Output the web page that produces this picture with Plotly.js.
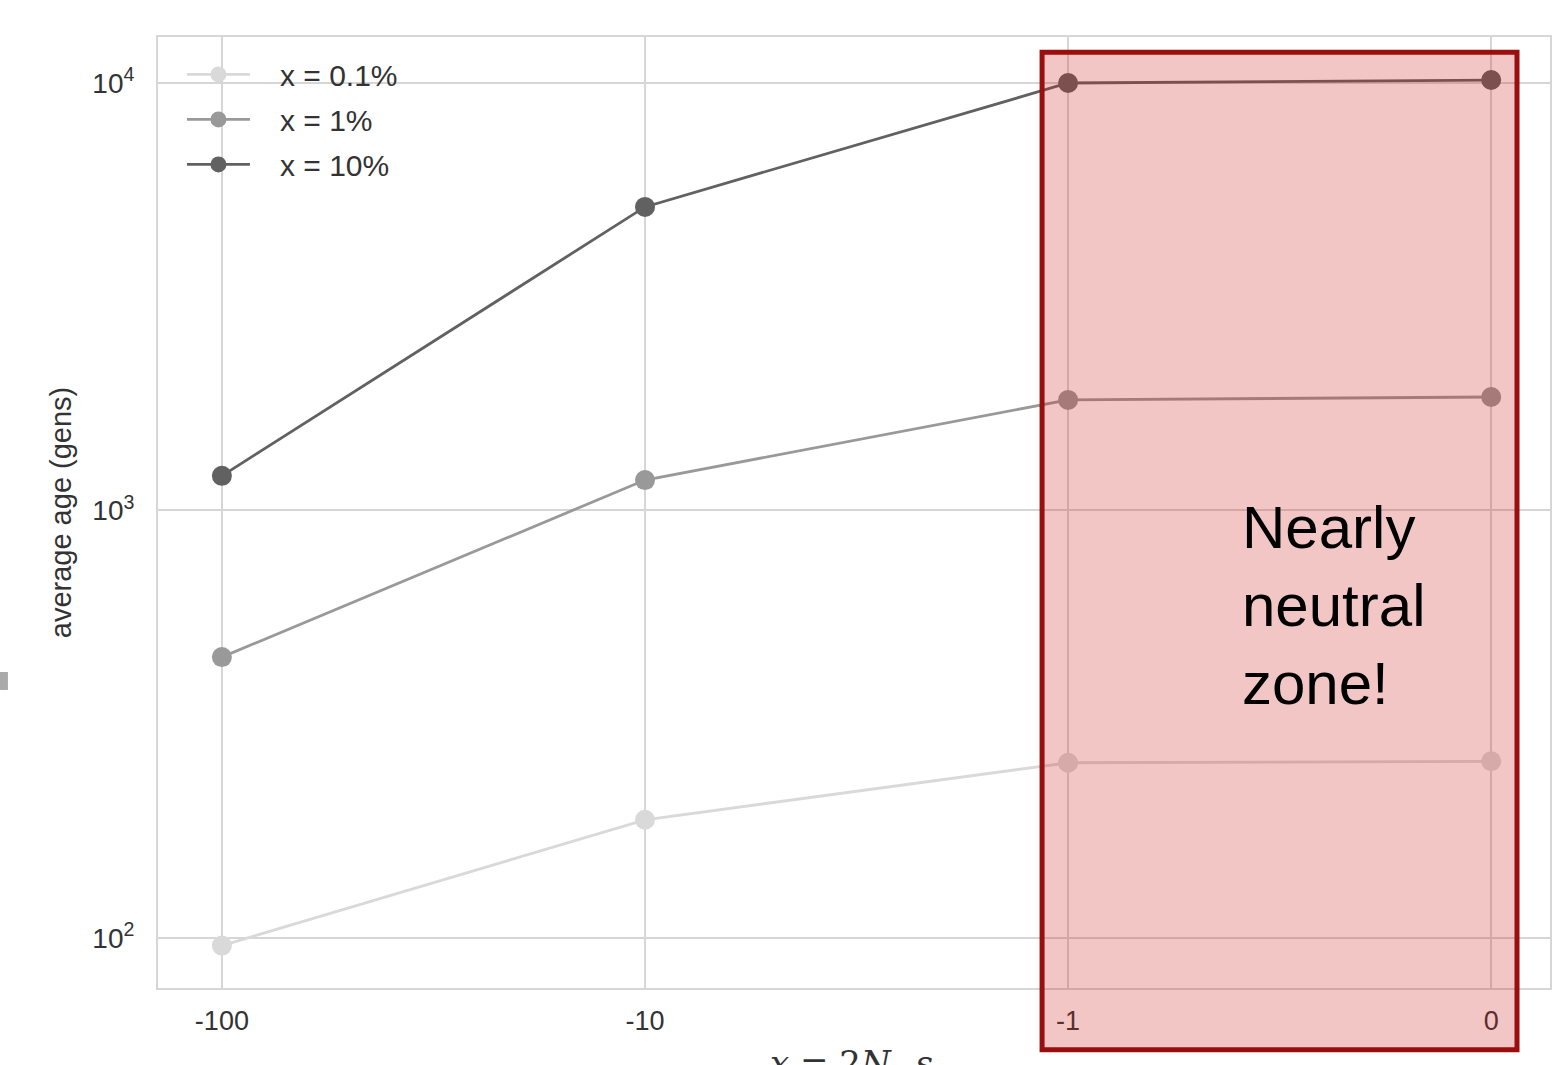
<!DOCTYPE html>
<html>
<head>
<meta charset="utf-8">
<script src="https://cdn.plot.ly/plotly-3.0.1.min.js"></script>
<style>html,body{margin:0;padding:0;background:#fff;}#chart{width:1559px;height:1065px;}</style>
</head>
<body>
<div id="chart"></div>
<script>
var categories = ["-100", "-10", "-1", "0"];
var seriesNames = ["x = 0.1%", "x = 1%", "x = 10%"];
var age01 = [96, 189, 257, 259];
var age1 = [454, 1178, 1814, 1843];
var age10 = [1205, 5130, 10000, 10160];
var yTickVals = [100, 1000, 10000];
var yTickText = ["10<sup>2</sup>", "10<sup>3</sup>", "10<sup>4</sup>"];
var colors = ["#d9d9d9", "#999999", "#616161"];
var idx = categories.map(function (c, i) { return i; });

var allSeries = [age01, age1, age10];
var pad = "\u00a0\u00a0\u00a0";
var traces = allSeries.map(function (vals, k) {
  return {
    x: idx, y: vals, name: pad + seriesNames[k], type: "scatter", mode: "lines+markers",
    legendgroup: "g" + k,
    line: {color: colors[k], width: 2.8},
    marker: {color: colors[k], size: 20}
  };
});

var grid = "#d6d6d6";
var layout = {
  width: 1559, height: 1065,
  margin: {l: 158, r: 9, t: 37, b: 77},
  paper_bgcolor: "#ffffff", plot_bgcolor: "#ffffff",
  font: {family: "Liberation Sans, Arial, sans-serif", color: "#444444"},
  showlegend: true,
  legend: {x: 0.0172, y: 0.988, xanchor: "left", yanchor: "top", bgcolor: "rgba(0,0,0,0)",
    font: {size: 30, color: "#333333"}, itemwidth: 63, tracegroupgap: 3},
  xaxis: {
    range: [-0.151, 3.139], tickmode: "array", tickvals: idx, ticktext: categories,
    showgrid: true, gridcolor: grid, gridwidth: 2, zeroline: false,
    showline: true, linecolor: grid, linewidth: 2, mirror: true,
    ticks: "", ticklen: 0, ticklabelstandoff: 8, tickfont: {size: 27, color: "#333333"}
  },
  yaxis: {
    type: "log", range: [1.883, 4.1076], tickmode: "array", tickvals: yTickVals, ticktext: yTickText,
    showgrid: true, gridcolor: grid, gridwidth: 2, zeroline: false,
    showline: true, linecolor: grid, linewidth: 2, mirror: true,
    ticks: "", ticklabelstandoff: 16, tickfont: {size: 28, color: "#333333"},
    title: {text: "average age (gens)", font: {size: 29, color: "#333333"}, standoff: 12}
  },
  shapes: [
    {type: "rect", xref: "x", yref: "paper", x0: 1.9385, x1: 3.061, y0: -0.065, y1: 0.984,
     fillcolor: "rgba(210,35,35,0.26)", line: {color: "#9b0e0e", width: 5}, layer: "above"},
    {type: "rect", xref: "paper", yref: "paper", x0: -0.1135, x1: -0.1078, y0: 0.3134, y1: 0.3323,
     fillcolor: "#aaaaaa", line: {width: 0}, layer: "above"}
  ],
  annotations: [
    {xref: "paper", yref: "paper", x: 0.777, y: 0.4027, xanchor: "left", yanchor: "middle", align: "left",
     text: "Nearly<br>neutral<br>zone!", showarrow: false,
     font: {family: "Liberation Sans, Arial, sans-serif", size: 60, color: "#000000"}},
    {xref: "paper", yref: "paper", x: 0.4985, y: -0.056, xanchor: "center", yanchor: "top",
     text: "<i>x</i> = 2<i>N</i><sub><i>e</i></sub> <i>s</i>", showarrow: false,
     font: {family: "DejaVu Serif, serif", size: 34, color: "#333333"}}
  ]
};
Plotly.newPlot("chart", traces, layout, {displayModeBar: false});
</script>
</body>
</html>
